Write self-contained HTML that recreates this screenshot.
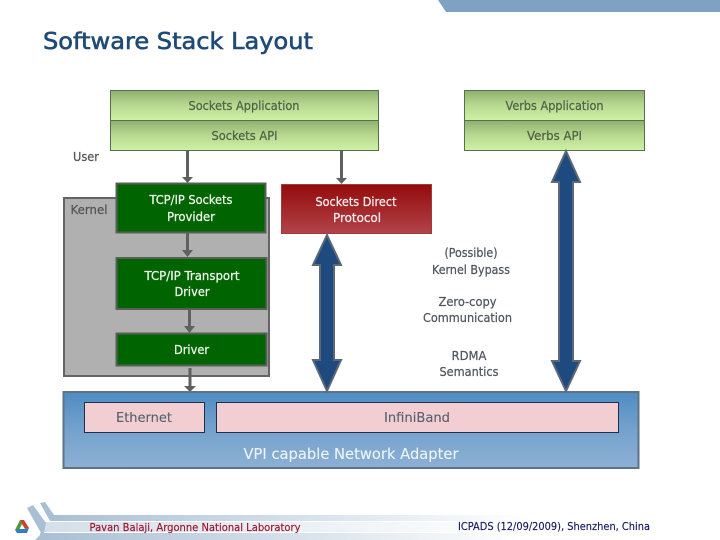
<!DOCTYPE html>
<html><head><meta charset="utf-8"><style>
html,body{margin:0;padding:0;background:#fff;width:720px;height:540px;overflow:hidden}
svg{display:block}
text{font-family:"DejaVu Sans","Liberation Sans",sans-serif;text-anchor:middle;font-size:12px;stroke:currentColor;stroke-width:.25px}
</style></head><body>
<svg width="720" height="540" viewBox="0 0 720 540" xmlns="http://www.w3.org/2000/svg">
<defs>
<linearGradient id="g" x1="0" y1="0" x2="0" y2="1"><stop offset="0" stop-color="#8fae6e"/><stop offset=".45" stop-color="#b5d68e"/><stop offset="1" stop-color="#cdf2a4"/></linearGradient>
<linearGradient id="r" x1="0" y1="0" x2="0" y2="1"><stop offset="0" stop-color="#930b0b"/><stop offset="1" stop-color="#b2434a"/></linearGradient>
<linearGradient id="b" x1="0" y1="0" x2="0" y2="1"><stop offset="0" stop-color="#4f8cc2"/><stop offset=".5" stop-color="#74a2cd"/><stop offset="1" stop-color="#8db0d4"/></linearGradient>
<linearGradient id="f1" x1="0" y1="0" x2="1" y2="0"><stop offset="0" stop-color="#a9bfd4"/><stop offset="1" stop-color="#ffffff"/></linearGradient>
</defs>

<polygon points="438,0 720,0 720,12 446,12" fill="#7fa2c3"/>

<text x="43" y="49" style="text-anchor:start;font-size:23px;stroke-width:.6px;color:#1f4a75" fill="#1f4a75" textLength="270" lengthAdjust="spacingAndGlyphs">Software Stack Layout</text>

<!-- top boxes -->
<rect x="110.500" y="90.500" width="268" height="30" fill="url(#g)" stroke="#55704a"/>
<rect x="110.500" y="120.500" width="268" height="30" fill="url(#g)" stroke="#55704a"/>
<rect x="464.500" y="90.500" width="180" height="30" fill="url(#g)" stroke="#55704a"/>
<rect x="464.500" y="120.500" width="180" height="30" fill="url(#g)" stroke="#55704a"/>
<g fill="#4f6247" style="color:#4f6247">
<text x="244" y="110" textLength="111" lengthAdjust="spacingAndGlyphs">Sockets Application</text>
<text x="244.500" y="140" textLength="66" lengthAdjust="spacingAndGlyphs">Sockets API</text>
<text x="554.500" y="110" textLength="98" lengthAdjust="spacingAndGlyphs">Verbs Application</text>
<text x="554.500" y="140" textLength="55" lengthAdjust="spacingAndGlyphs">Verbs API</text>
</g>
<text x="86" y="161" fill="#555" style="color:#555" textLength="26" lengthAdjust="spacingAndGlyphs">User</text>

<!-- kernel -->
<rect x="64" y="198" width="205" height="178" fill="#b0b0b0" stroke="#646464" stroke-width="2"/>
<text x="89" y="214" fill="#555" style="color:#555" textLength="37" lengthAdjust="spacingAndGlyphs">Kernel</text>

<!-- small arrows -->
<g stroke="#606060" stroke-width="3" fill="none">
<line x1="187.500" y1="150" x2="187.500" y2="177"/>
<line x1="341.500" y1="150" x2="341.500" y2="178"/>
<line x1="187.500" y1="233" x2="187.500" y2="250"/>
<line x1="189.500" y1="310" x2="189.500" y2="327"/>
<line x1="190" y1="368" x2="190" y2="386"/>
</g>
<g fill="#606060">
<polygon points="182,177 193,177 187.500,183"/>
<polygon points="336,178 347,178 341.500,184"/>
<polygon points="182,250 193,250 187.500,257"/>
<polygon points="184,326 195,326 189.500,333"/>
<polygon points="184,386 196,386 190,392"/>
</g>

<!-- green kernel boxes -->
<g fill="#006400" stroke="#585f58" stroke-width="2">
<rect x="116.500" y="183.500" width="149" height="49"/>
<rect x="116.500" y="258" width="150" height="51"/>
<rect x="116.500" y="333.500" width="150" height="32"/>
</g>
<g fill="#f2f7ee" style="color:#f2f7ee">
<text x="191" y="204" textLength="83" lengthAdjust="spacingAndGlyphs">TCP/IP Sockets</text>
<text x="191" y="221" textLength="48" lengthAdjust="spacingAndGlyphs">Provider</text>
<text x="192" y="280" textLength="95" lengthAdjust="spacingAndGlyphs">TCP/IP Transport</text>
<text x="192" y="296" textLength="35" lengthAdjust="spacingAndGlyphs">Driver</text>
<text x="191.500" y="354" textLength="35" lengthAdjust="spacingAndGlyphs">Driver</text>
</g>

<!-- SDP -->
<rect x="281.500" y="184.500" width="150" height="49" fill="url(#r)" stroke="#a33a40"/>
<g fill="#f7efef" style="color:#f7efef">
<text x="356" y="206" textLength="81" lengthAdjust="spacingAndGlyphs">Sockets Direct</text>
<text x="357" y="222" textLength="48" lengthAdjust="spacingAndGlyphs">Protocol</text>
</g>

<!-- adapter -->
<rect x="63.500" y="392" width="575" height="76" fill="url(#b)" stroke="#5f7386" stroke-width="2"/>
<rect x="84.500" y="402.500" width="120" height="30" fill="#f2ced3" stroke="#1d2f4f"/>
<rect x="216.500" y="402.500" width="402" height="30" fill="#f2ced3" stroke="#1d2f4f"/>
<text x="144" y="422" fill="#55606a" style="font-size:13px;color:#55606a;stroke-width:.1px" textLength="56" lengthAdjust="spacingAndGlyphs">Ethernet</text>
<text x="417" y="422" fill="#55606a" style="font-size:13px;color:#55606a;stroke-width:.1px" textLength="66" lengthAdjust="spacingAndGlyphs">InfiniBand</text>
<text x="351" y="459" fill="#eef4fa" style="font-size:15px;color:#eef4fa;stroke-width:.1px" textLength="215" lengthAdjust="spacingAndGlyphs">VPI capable Network Adapter</text>

<!-- double arrows -->
<g fill="#1f4a80" stroke="#5a6878" stroke-width="2" stroke-linejoin="miter">
<polygon points="327,235 341,265 334,265 334,360 341,360 327,391 313,360 320,360 320,265 313,265"/>
<polygon points="566,151 580,182 573,182 573,361 580,361 566,391 552,361 559,361 559,182 552,182"/>
</g>

<!-- middle labels -->
<g fill="#4f5660" style="color:#4f5660">
<text x="471" y="257" textLength="53" lengthAdjust="spacingAndGlyphs">(Possible)</text>
<text x="471" y="274" textLength="78" lengthAdjust="spacingAndGlyphs">Kernel Bypass</text>
<text x="467.500" y="306" textLength="58" lengthAdjust="spacingAndGlyphs">Zero-copy</text>
<text x="467.500" y="322" textLength="89" lengthAdjust="spacingAndGlyphs">Communication</text>
<text x="469" y="360" textLength="35" lengthAdjust="spacingAndGlyphs">RDMA</text>
<text x="469" y="376" textLength="59" lengthAdjust="spacingAndGlyphs">Semantics</text>
</g>

<!-- footer -->
<rect x="50" y="515" width="480" height="6" fill="url(#f1)"/>
<rect x="44" y="522" width="480" height="10" fill="url(#f1)" opacity=".5"/>
<rect x="40" y="533" width="480" height="7" fill="url(#f1)"/>
<polygon points="40,503 45,502 54,515 54,521 50,521" fill="#a9bfd4"/>
<polygon points="27,508 33,505 46,523 44,533 41,533" fill="#a9bfd4"/>
<polygon points="35,540 42,533 48,533 48,540" fill="#a9bfd4"/>
<polygon points="20,520 24,520 29,528 25,529 22,524" fill="#c9432f"/>
<polygon points="20,520 22,524 19,530 15,530" fill="#4e9a3a"/>
<polygon points="15,530 19,529 25,529 29,528 27,533 17,533" fill="#2f7fc1"/>
<text x="195" y="531" fill="#a0122a" style="font-size:11px;color:#a0122a;stroke-width:.15px" textLength="211" lengthAdjust="spacingAndGlyphs">Pavan Balaji, Argonne National Laboratory</text>
<text x="554" y="530" fill="#141a5c" style="font-size:11px;color:#141a5c;stroke-width:.15px" textLength="192" lengthAdjust="spacingAndGlyphs">ICPADS (12/09/2009), Shenzhen, China</text>
</svg>
</body></html>
